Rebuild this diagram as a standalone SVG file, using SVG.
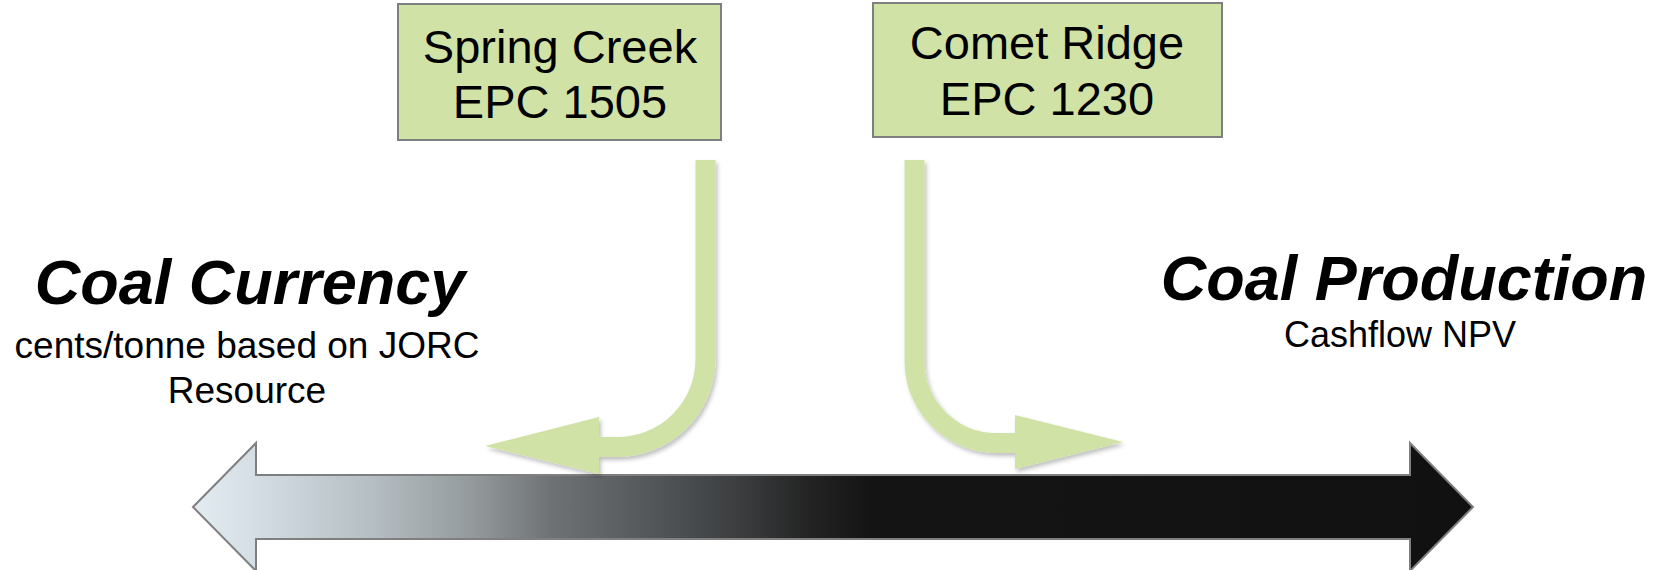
<svg xmlns="http://www.w3.org/2000/svg" width="1668" height="570" viewBox="0 0 1668 570">
  <style>
    .box { fill: #d1e2a6; stroke: #7f7f7f; stroke-width: 2; }
    .boxtext { font-family: "Liberation Sans", Arial, sans-serif; font-size: 47px; fill: #000; text-anchor: middle; }
    .title { font-family: "Liberation Sans", Arial, sans-serif; font-size: 63px; font-weight: bold; font-style: italic; fill: #000; text-anchor: middle; }
    .sub { font-family: "Liberation Sans", Arial, sans-serif; font-size: 37px; fill: #000; text-anchor: middle; }
    .shaft { fill: none; stroke: #d1e2a6; stroke-width: 20; stroke-linecap: butt; }
    .head { fill: #d1e2a6; }
  </style>
  <defs>
    <linearGradient id="axisGrad" gradientUnits="userSpaceOnUse" x1="193" y1="0" x2="1473" y2="0">
      <stop offset="0" stop-color="#e2ecf1"/>
      <stop offset="0.05" stop-color="#d3dde3"/>
      <stop offset="0.14" stop-color="#b5bec3"/>
      <stop offset="0.22" stop-color="#93999b"/>
      <stop offset="0.28" stop-color="#6e7275"/>
      <stop offset="0.35" stop-color="#565a5d"/>
      <stop offset="0.43" stop-color="#3a3c3e"/>
      <stop offset="0.48" stop-color="#242424"/>
      <stop offset="0.53" stop-color="#141414"/>
      <stop offset="1" stop-color="#111111"/>
    </linearGradient>
    <filter id="shadow" x="-20%" y="-20%" width="140%" height="140%">
      <feDropShadow dx="2" dy="3" stdDeviation="2" flood-color="#000" flood-opacity="0.25"/>
    </filter>
  </defs>

  <g id="axis">
    <polygon points="193,507 256,443 256,475 1410,475 1410,443 1473,507 1410,571 1410,539 256,539 256,571" fill="url(#axisGrad)" stroke="#7f7f7f" stroke-width="2" stroke-linejoin="miter"/>
  </g>

  <g id="connectors">
    <g id="arrow-spring" filter="url(#shadow)">
      <path class="shaft" d="M705.5,160 V359 A88,88 0 0 1 617.5,447 H598"/>
      <polygon class="head" points="599,417 485,446 599,474"/>
    </g>
    <g id="arrow-comet" filter="url(#shadow)">
      <path class="shaft" d="M914.5,160 V361 A82,82 0 0 0 996.5,443 H1016"/>
      <polygon class="head" points="1015,415 1123,442 1015,469"/>
    </g>
  </g>

  <g id="node-spring-creek">
    <rect class="box" x="398" y="4" width="323" height="136"/>
    <text class="boxtext" x="560" y="63">Spring Creek</text>
    <text class="boxtext" x="560" y="118">EPC 1505</text>
  </g>

  <g id="node-comet-ridge">
    <rect class="box" x="873" y="3" width="349" height="134"/>
    <text class="boxtext" x="1047" y="59">Comet Ridge</text>
    <text class="boxtext" x="1047" y="115">EPC 1230</text>
  </g>

  <g id="label-coal-currency">
    <text class="title" x="250" y="304">Coal Currency</text>
    <text class="sub" x="247" y="358">cents/tonne based on JORC</text>
    <text class="sub" x="247" y="403">Resource</text>
  </g>

  <g id="label-coal-production">
    <text class="title" x="1404" y="300">Coal Production</text>
    <text class="sub" x="1400" y="347" style="font-size:36px">Cashflow NPV</text>
  </g>
</svg>
